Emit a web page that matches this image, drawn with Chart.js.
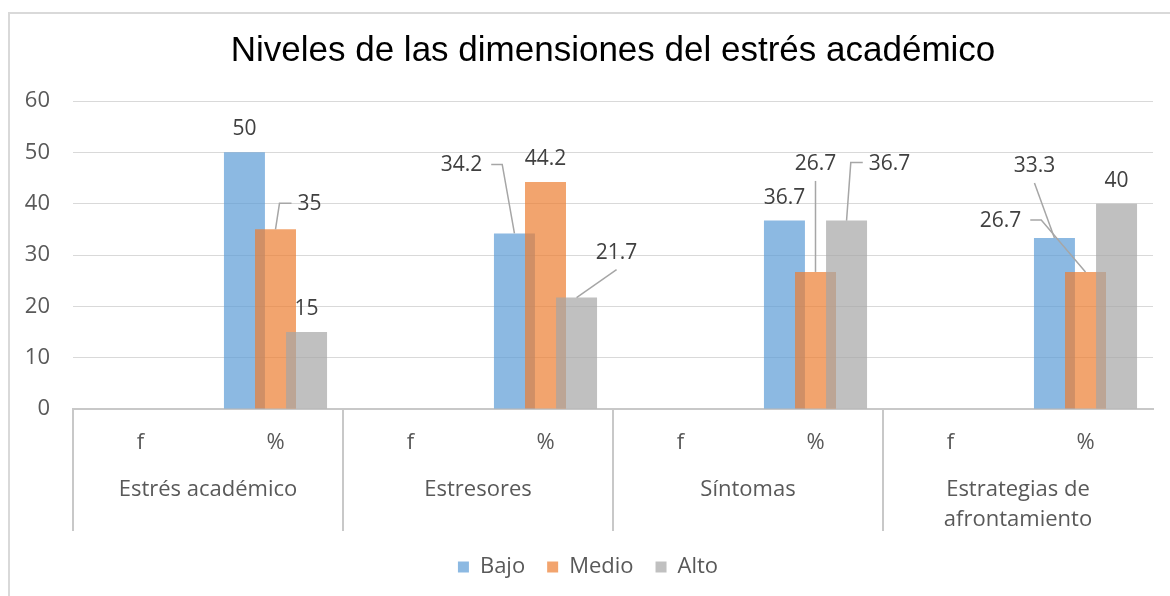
<!DOCTYPE html>
<html>
<head>
<meta charset="utf-8">
<script src="https://cdn.jsdelivr.net/npm/chart.js@4.4.1/dist/chart.umd.min.js"></script>
<style>
  html, body { margin: 0; padding: 0; background: #fff; overflow: hidden; }
  #frame { position: absolute; left: 8px; top: 12px; width: 1180px; height: 600px; border: 2px solid #d9d9d9; box-sizing: border-box; }
  #chartContainer { position: absolute; left: 0; top: 0; width: 1170px; height: 596px; }
</style>
</head>
<body>
<div id="frame"></div>
<div id="chartContainer"><canvas id="myChart"></canvas></div>
<script>
// datos del gráfico
const categorias = ['f', '%', 'f', '%', 'f', '%', 'f', '%'];
const dimensiones = ['Estrés académico', 'Estresores', 'Síntomas', ['Estrategias de', 'afrontamiento']];
const bajo = [null, 50, null, 34.2, null, 36.7, null, 33.3];
const medio = [null, 35, null, 44.2, null, 26.7, null, 26.7];
const alto = [null, 15, null, 21.7, null, 36.7, null, 40];
const titulo = 'Niveles de las dimensiones del estrés académico';

// etiquetas movidas a mano (dx, dy desde la punta de la barra, tipo de línea guía)
const etiquetasMovidas = [
    { 3: [-53, -68, 'left'], 7: [-20, -72, 'below'] },
    { 1: [34, -25, 'right'], 5: [0, -108, 'below'], 7: [-85, -51, 'left'] },
    { 3: [40, -45, 'below'], 5: [43, -57, 'right'] }
];

const fuente = "'Open Sans', 'Noto Sans', sans-serif";

// dibuja las series en orden (la de la derecha encima)
const ordenDibujo = {
    id: 'ordenDibujo',
    beforeDatasetsDraw(chart) {
        const metas = chart.getSortedVisibleDatasetMetas().slice().sort((a, b) => a.index - b.index);
        const ctx = chart.ctx;
        ctx.save();
        ctx.beginPath();
        ctx.rect(chart.chartArea.left, chart.chartArea.top - 2, chart.chartArea.width, chart.chartArea.height + 2);
        ctx.clip();
        metas.forEach(meta => meta.controller.draw());
        ctx.restore();
        return false;
    }
};

// etiquetas de datos con líneas guía
const etiquetasDatos = {
    id: 'etiquetasDatos',
    afterDraw(chart) {
        const ctx = chart.ctx;
        ctx.save();
        ctx.font = '21px ' + fuente;
        ctx.textAlign = 'center';
        ctx.textBaseline = 'middle';
        chart.data.datasets.forEach((ds, di) => {
            const meta = chart.getDatasetMeta(di);
            ds.data.forEach((v, i) => {
                if (v === null) return;
                const bar = meta.data[i];
                const mov = etiquetasMovidas[di][i] || [0, -23, null];
                const lx = bar.x + mov[0];
                const ly = bar.y + mov[1];
                const txt = String(v);
                const w = ctx.measureText(txt).width;
                if (mov[2]) {
                    ctx.strokeStyle = '#a6a6a6';
                    ctx.lineWidth = 1.5;
                    ctx.beginPath();
                    if (mov[2] === 'left') {
                        ctx.moveTo(lx + w / 2 + 9, ly - 1);
                        ctx.lineTo(lx + w / 2 + 20, ly - 1);
                    } else if (mov[2] === 'right') {
                        ctx.moveTo(lx - w / 2 - 6, ly - 1);
                        ctx.lineTo(lx - w / 2 - 18, ly - 1);
                    } else {
                        ctx.moveTo(lx, ly + 17);
                    }
                    ctx.lineTo(bar.x, bar.y);
                    ctx.stroke();
                }
                ctx.fillStyle = '#404040';
                ctx.fillText(txt, lx, ly);
            });
        });
        ctx.restore();
    }
};

const ctx = document.getElementById('myChart').getContext('2d');
const myChart = new Chart(ctx, {
    type: 'bar',
    data: {
        labels: categorias,
        datasets: [
            { label: 'Bajo', data: bajo, backgroundColor: 'rgba(91, 155, 213, 0.7)' },
            { label: 'Medio', data: medio, backgroundColor: 'rgba(237, 125, 49, 0.7)' },
            { label: 'Alto', data: alto, backgroundColor: 'rgba(165, 165, 165, 0.7)' }
        ]
    },
    options: {
        responsive: true,
        maintainAspectRatio: false,
        animation: false,
        categoryPercentage: 0.69,
        barPercentage: 1.32,
        layout: { padding: { left: 23, right: 17, top: 12, bottom: 8 } },
        scales: {
            y: {
                min: 0,
                max: 60,
                ticks: { stepSize: 10, color: '#595959', font: { family: fuente, size: 22 }, padding: 23 },
                grid: { color: '#d9d9d9', drawTicks: false },
                border: { display: false },
                afterFit: (s) => { s.width = 50; }
            },
            x: {
                ticks: { color: '#595959', font: { family: fuente, size: 22 }, padding: -101 },
                grid: {
                    offset: true,
                    drawOnChartArea: false,
                    tickLength: 122,
                    lineWidth: 2,
                    color: (c) => (c.index % 2 === 0 ? '#c8c8c8' : 'rgba(0,0,0,0)')
                },
                border: { color: '#c8c8c8', width: 2 },
                afterFit: (s) => { s.height = 44; }
            },
            x2: {
                type: 'category',
                position: 'bottom',
                labels: dimensiones,
                ticks: { color: '#595959', font: { family: fuente, size: 22, lineHeight: 1.36 }, padding: 14 },
                grid: { display: false },
                border: { display: false },
                afterFit: (s) => { s.height = 81; }
            }
        },
        plugins: {
            title: {
                display: true,
                text: titulo,
                fullSize: false,
                color: '#000',
                font: { family: "'Liberation Sans', Arial, sans-serif", size: 35, weight: 'normal' },
                padding: { top: 18, bottom: 29 }
            },
            legend: {
                position: 'bottom',
                labels: {
                    boxWidth: 11,
                    boxHeight: 11,
                    padding: 22,
                    color: '#595959',
                    font: { family: fuente, size: 22 }
                }
            },
            tooltip: { enabled: false }
        }
    },
    plugins: [ordenDibujo, etiquetasDatos]
});
</script>
</body>
</html>
